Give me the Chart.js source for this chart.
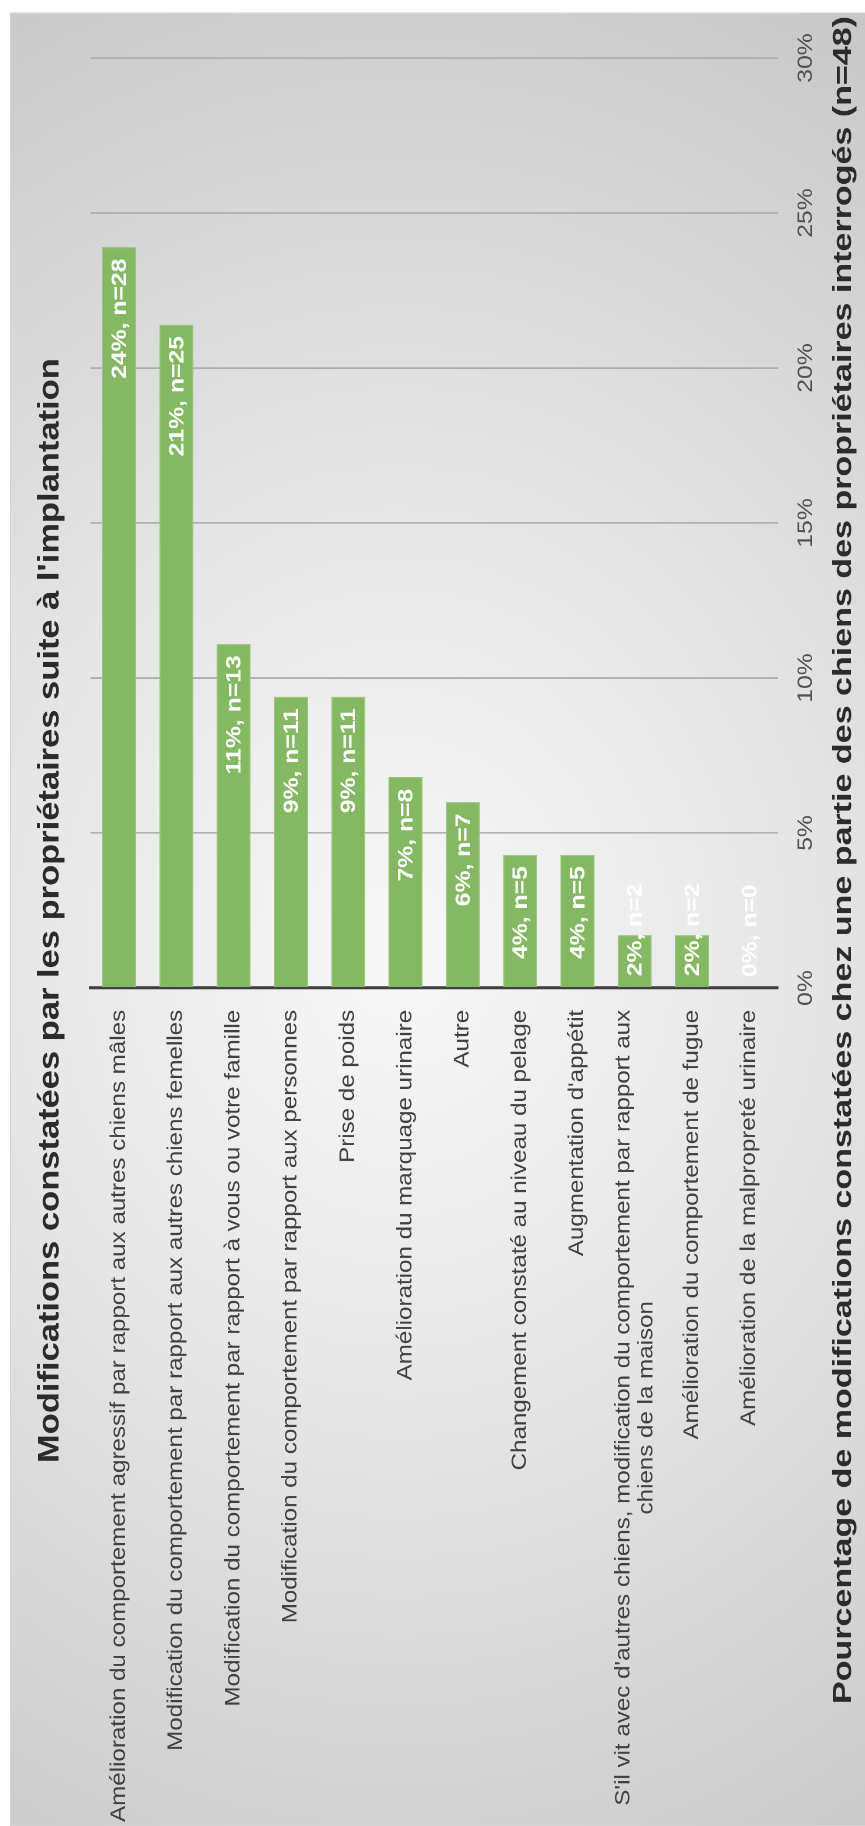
<!DOCTYPE html>
<html>
<head>
<meta charset="utf-8">
<script src="https://cdn.jsdelivr.net/npm/chart.js@4/dist/chart.umd.min.js"></script>
<style>
  html, body { margin: 0; padding: 0; background: #fff; overflow: hidden; width: 865px; height: 1826px; }
  #wrap {
    position: absolute; left: 10px; top: 0;
    width: 1577px; height: 855px;
    transform-origin: 0 0;
    transform: translateY(1826px) rotate(-90deg) scaleX(1.15);
  }
</style>
</head>
<body>
<div id="wrap"><canvas id="chart" width="1577" height="855"></canvas></div>
<script>
var categories = [
    'Amélioration du comportement agressif par rapport aux autres chiens mâles',
    'Modification du comportement par rapport aux autres chiens femelles',
    'Modification du comportement par rapport à vous ou votre famille',
    'Modification du comportement par rapport aux personnes',
    'Prise de poids',
    'Amélioration du marquage urinaire',
    'Autre',
    'Changement constaté au niveau du pelage',
    "Augmentation d'appétit",
    ["S'il vit avec d'autres chiens, modification du comportement par rapport aux", 'chiens de la maison'],
    'Amélioration du comportement de fugue',
    'Amélioration de la malpropreté urinaire'
];
var percents = [23.9, 21.4, 11.1, 9.4, 9.4, 6.8, 6.0, 4.3, 4.3, 1.7, 1.7, 0];
var counts = [28, 25, 13, 11, 11, 8, 7, 5, 5, 2, 2, 0];
var tickValues = [0, 5, 10, 15, 20, 25, 30];

var title = "Modifications constatées par les propriétaires suite à l'implantation";
var axisTitle = 'Pourcentage de modifications constatées chez une partie des chiens des propriétaires interrogés (n=48)';

var FONT = "'Liberation Sans', Arial, sans-serif";
Chart.defaults.font.family = FONT;

// panel background, radial grey gradient
var backgroundPlugin = {
    id: 'panelBg',
    beforeDraw: function (chart) {
        var ctx = chart.ctx;
        ctx.save();
        var g = ctx.createRadialGradient(760, 390, 0, 760, 390, 980);
        g.addColorStop(0, '#f8f8f8');
        g.addColorStop(0.4, '#e6e6e6');
        g.addColorStop(1, '#c5c5c5');
        ctx.fillStyle = g;
        ctx.fillRect(0, 0, chart.width, chart.height);
        ctx.strokeStyle = '#d4d4d4';
        ctx.lineWidth = 1;
        ctx.strokeRect(0.5, 0.5, chart.width - 1, chart.height + 5);
        ctx.restore();
    }
};

// titles, category labels and value labels
var textPlugin = {
    id: 'texts',
    afterDraw: function (chart) {
        var ctx = chart.ctx;
        var area = chart.chartArea;
        var yScale = chart.scales.y;
        ctx.save();

        ctx.fillStyle = '#2b2b2b';
        ctx.font = 'bold 30px ' + FONT;
        ctx.textAlign = 'center';
        ctx.textBaseline = 'middle';
        ctx.fillText(title, 796, 40);

        // axis title, a little flattened like the original
        ctx.save();
        ctx.translate(840, 834);
        ctx.scale(1, 0.88);
        ctx.font = 'bold 29.6px ' + FONT;
        ctx.fillText(axisTitle, 0, 0);
        ctx.restore();

        // category labels
        ctx.fillStyle = '#404040';
        ctx.font = '21px ' + FONT;
        var right = area.left - 19;
        categories.forEach(function (label, i) {
            var y = yScale.getPixelForValue(i);
            if (Array.isArray(label)) {
                var w1 = ctx.measureText(label[0]).width;
                ctx.textAlign = 'right';
                ctx.fillText(label[0], right, y - 11);
                ctx.textAlign = 'center';
                ctx.fillText(label[1], right - w1 / 2, y + 12);
            } else {
                ctx.textAlign = 'right';
                ctx.fillText(label, right, y);
            }
        });

        // value labels, inside end of bar
        ctx.fillStyle = '#ffffff';
        ctx.font = 'bold 21.5px ' + FONT;
        ctx.textAlign = 'left';
        var meta = chart.getDatasetMeta(0);
        meta.data.forEach(function (bar, i) {
            var text = Math.round(percents[i]) + '%, n=' + counts[i];
            var w = ctx.measureText(text).width;
            var x = Math.max(bar.x - 10 - w, bar.base + 9.5);
            ctx.fillText(text, x, bar.y + 1);
        });
        ctx.restore();
    }
};

new Chart(document.getElementById('chart'), {
    type: 'bar',
    data: {
        labels: categories,
        datasets: [{
            data: percents,
            backgroundColor: '#84b862',
            borderColor: '#96c677',
            borderWidth: function (c) { return c.raw > 0 ? 1 : 0; },
            categoryPercentage: 1,
            barPercentage: 0.593
        }]
    },
    options: {
        indexAxis: 'y',
        responsive: false,
        animation: false,
        devicePixelRatio: 2,
        layout: {
            padding: { top: 80.4, right: 39.6, left: 0, bottom: 0 }
        },
        plugins: {
            legend: { display: false },
            tooltip: { enabled: false },
            title: { display: false }
        },
        scales: {
            x: {
                min: 0,
                max: 30,
                afterBuildTicks: function (scale) {
                    scale.ticks = tickValues.map(function (v) { return { value: v }; });
                },
                afterFit: function (scale) {
                    scale.height = 87;
                },
                grid: {
                    color: '#adadad',
                    lineWidth: 1.4,
                    drawTicks: false
                },
                border: { display: false },
                ticks: {
                    padding: 15,
                    color: '#505050',
                    font: { size: 21.5 },
                    maxRotation: 0,
                    callback: function (v) { return v + '%'; }
                }
            },
            y: {
                afterFit: function (scale) {
                    scale.width = 728.7;
                },
                grid: { display: false, drawTicks: false },
                border: { display: true, color: '#404040', width: 2.8 },
                ticks: { display: false }
            }
        }
    },
    plugins: [backgroundPlugin, textPlugin]
});
</script>
</body>
</html>
